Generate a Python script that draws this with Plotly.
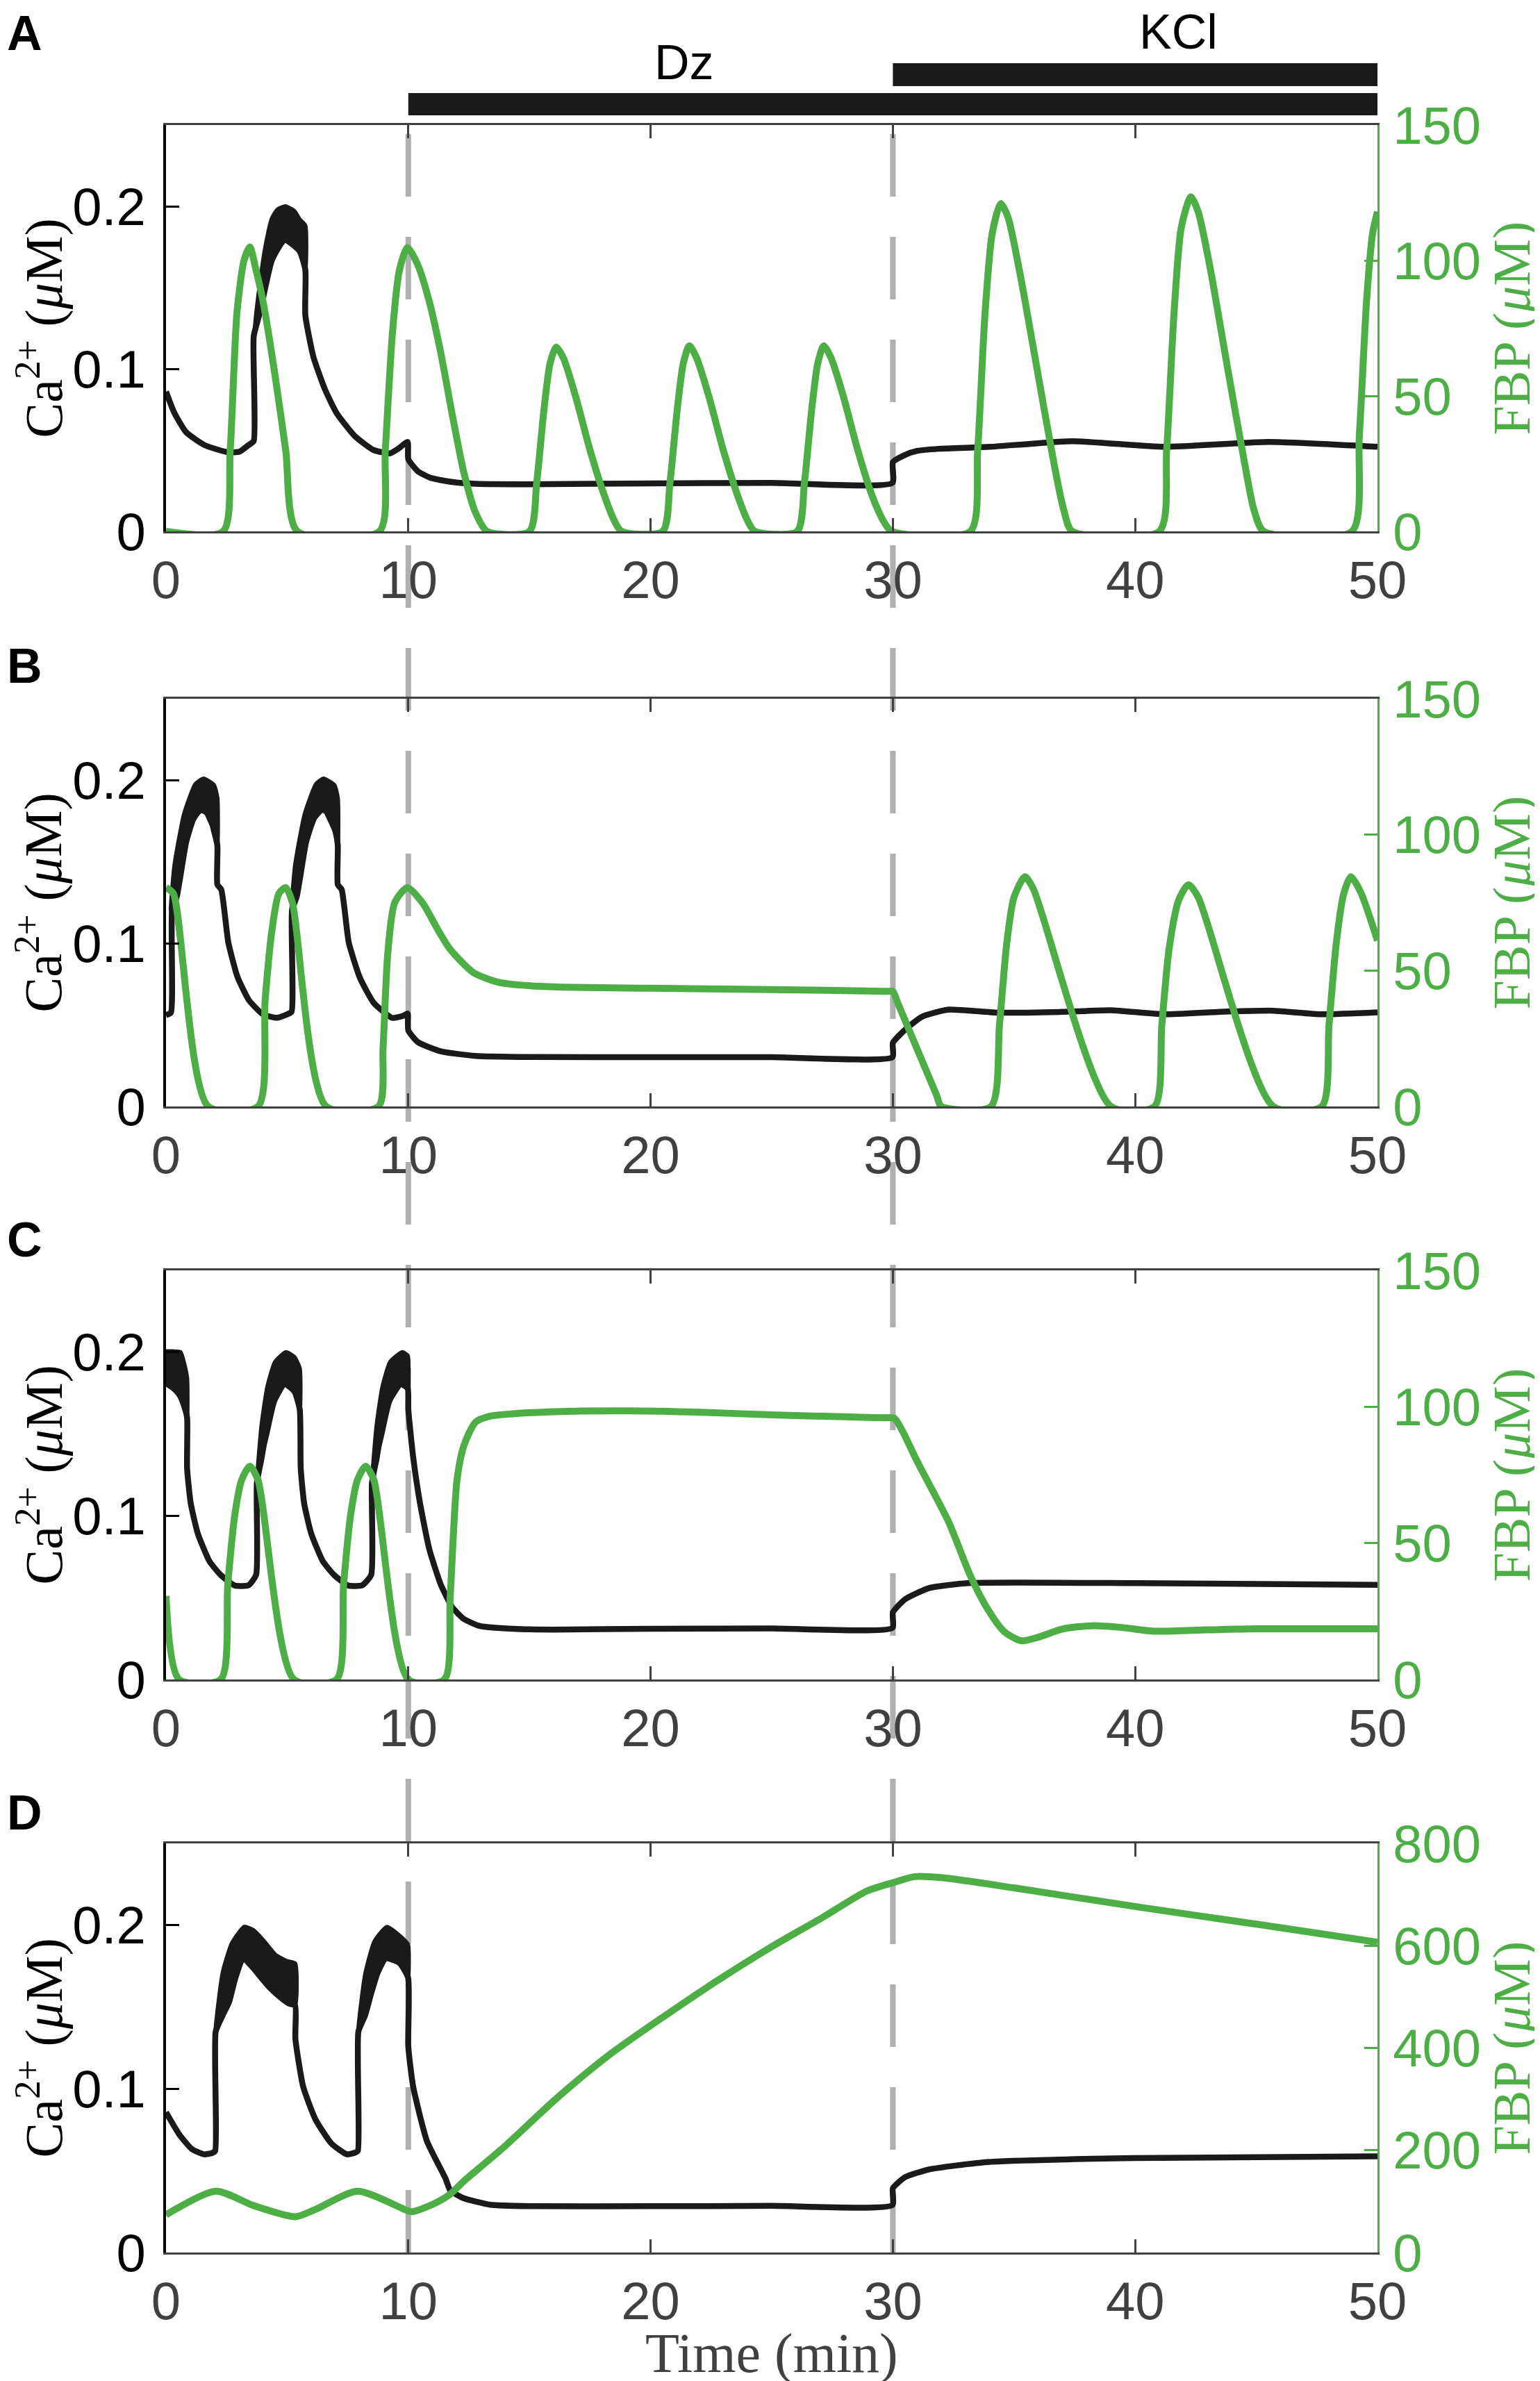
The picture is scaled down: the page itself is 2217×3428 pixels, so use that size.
import plotly.graph_objects as go

W, H = 2217, 3428
GREEN = "#4dae45"
BLACK = "#1a1a1a"
GRAY_AX = "#404040"
DASH_COL = "#b0b0b0"
SANS = "Liberation Sans, Arial, sans-serif"
SERIF = "Liberation Serif, Times New Roman, serif"

# ---------------- data ----------------
time_ticks = [0, 10, 20, 30, 40, 50]
ca_ticks = [0, 0.1, 0.2]
fbp_ticks_abc = [0, 50, 100, 150]
fbp_ticks_d = [0, 200, 400, 600, 800]
panel_labels = ["A", "B", "C", "D"]
treat_names = ["Dz", "KCl"]
treat_start = [10, 30]
treat_end = [50, 50]

# Panel A
A_ca_t = [0, 0.34, 0.83, 1.6, 2.55, 3.03, 3.4, 3.62, 3.62, 3.89, 4.37, 4.9, 5.51, 5.75, 5.75,
          6.09, 6.57, 7.04, 7.8, 8.57, 9.24, 9.6, 9.97, 10.0, 10.39, 10.9, 11.34, 12.0, 12.77,
          15, 20, 25, 29.98, 30.0, 30.5, 31.0, 31.9, 34, 37.4, 41.2, 45.5, 50]
A_ca_v = [0.086, 0.073, 0.061, 0.053, 0.0487, 0.049, 0.053, 0.0556, 0.12, 0.1355, 0.1668, 0.1795, 0.1725, 0.161, 0.133,
          0.107, 0.087, 0.0728, 0.0585, 0.050, 0.048, 0.051, 0.055, 0.0444, 0.037, 0.033, 0.0315, 0.030, 0.0293,
          0.029, 0.0295, 0.0298, 0.0298, 0.0426, 0.047, 0.0495, 0.0508, 0.052, 0.0555, 0.052, 0.055, 0.052]
A_b1_t = [3.62, 3.89, 4.1, 4.37, 4.6, 4.93, 5.3, 5.51, 5.75]
A_b1_hi = [0.12, 0.154, 0.175, 0.1925, 0.198, 0.200, 0.197, 0.192, 0.188]
A_b1_lo = [0.12, 0.1355, 0.150, 0.1668, 0.176, 0.1795, 0.178, 0.1725, 0.161]
A_fbp_t = [0, 2.36, 2.65, 2.93, 3.22, 3.46, 3.7, 3.99, 4.46, 4.94, 5.42,
           8.81, 9.05, 9.34, 9.62, 9.96, 10.39, 10.87, 11.34, 11.82, 12.3, 12.77, 13.25,
           15.0, 15.3, 15.6, 15.85, 16.1, 16.4, 16.9, 17.5, 18.1, 18.5, 18.8,
           20.5, 20.8, 21.1, 21.35, 21.6, 21.9, 22.4, 23.0, 23.6, 24.0, 24.3,
           26.05, 26.35, 26.65, 26.9, 27.15, 27.45, 27.95, 28.55, 29.15, 29.6, 29.95,
           33.2, 33.5, 33.8, 34.1, 34.45, 34.75, 35.25, 35.95, 36.65, 37.05, 37.4,
           41.0, 41.3, 41.6, 41.9, 42.3, 42.6, 43.1, 43.8, 44.5, 44.9, 45.3,
           48.95, 49.25, 49.55, 49.8, 50.0]
A_fbp_v = [0, 0, 30, 81, 100, 105, 97, 85.6, 60, 30, 0,
           0, 30, 72.7, 95.8, 104.8, 98.4, 84.7, 65.9, 42.8, 21.4, 7, 0,
           0, 18, 45, 62, 68, 64, 50, 30, 13, 4, 0,
           0, 18, 45, 62, 68.5, 64, 50, 30, 13, 4, 0,
           0, 18, 45, 62, 68.5, 64, 50, 30, 13, 4, 0,
           0, 30, 80, 110, 121, 116, 95, 60, 25, 8, 0,
           0, 30, 80, 112, 123.5, 118, 97, 61, 26, 8, 0,
           0, 35, 85, 110, 118]

# Panel B
B_ca_t = [0, 0.2, 0.25, 0.45, 0.83, 1.12, 1.42, 1.79, 1.98, 2.12, 2.12, 2.28, 2.57, 2.95, 3.43, 4.0, 4.58, 5.0, 5.18,
          5.2, 5.4, 5.78, 6.07, 6.45, 6.8, 7.0, 7.09, 7.09, 7.25, 7.54, 8.0, 8.57, 9.34, 9.81, 9.97,
          10.0, 10.39, 11.34, 12.77, 15, 20, 25, 29.98, 30.0, 30.5, 31.2, 32.3, 34.3, 37, 39, 41.2, 43.5, 45.7, 47.7, 50]
B_ca_v = [0.056, 0.0575, 0.12, 0.129, 0.162, 0.176, 0.182, 0.179, 0.169, 0.160, 0.136, 0.133, 0.1007, 0.0794, 0.065, 0.0565, 0.0544, 0.0565, 0.058,
          0.12, 0.129, 0.162, 0.176, 0.182, 0.179, 0.169, 0.160, 0.136, 0.133, 0.1007, 0.079, 0.0636, 0.0543, 0.0557, 0.057,
          0.0466, 0.0395, 0.0338, 0.031, 0.0303, 0.0302, 0.0302, 0.0302, 0.039, 0.047, 0.055, 0.0594, 0.0575, 0.058, 0.059, 0.0565, 0.058, 0.0587, 0.0565, 0.0577]
B_b1_t = [0.2, 0.35, 0.74, 1.21, 1.55, 1.98, 2.12]
B_b1_hi = [0.12, 0.148, 0.179, 0.1976, 0.201, 0.197, 0.189]
B_b1_lo = [0.12, 0.127, 0.158, 0.178, 0.182, 0.169, 0.160]
B_b2_t = [5.18, 5.33, 5.72, 6.19, 6.5, 6.95, 7.09]
B_b2_hi = [0.12, 0.148, 0.179, 0.1976, 0.201, 0.197, 0.189]
B_b2_lo = [0.12, 0.127, 0.158, 0.178, 0.182, 0.169, 0.160]
B_fbp_t = [0, 0.3, 1.74, 3.8, 4.09, 4.37, 4.66, 4.94, 5.22, 6.61, 8.77, 8.96, 9.15, 9.44, 9.96, 10.58, 11.24, 11.72,
           12.68, 13.63, 14.2, 16, 20, 25, 29.8, 30.0, 30.2, 31.8, 32.0, 34.05, 34.4, 34.7, 35.0, 35.45, 35.8, 39.0,
           40.8, 41.1, 41.4, 41.8, 42.2, 42.6, 45.7, 47.7, 48.0, 48.3, 48.6, 48.9, 49.3, 50]
B_fbp_v = [80.5, 78.4, 0, 0, 39, 64.7, 78.4, 80.5, 74.9, 0, 0, 22, 56, 75, 80.5, 75, 64.7, 57.9,
           49.3, 45.9, 45, 44, 43.5, 43, 42.35, 42.3, 38.1, 4.2, 0, 0, 30, 60, 77, 84.5, 80, 0,
           0, 30, 58, 76, 81.6, 77, 0, 0, 30, 60, 78, 84.5, 79, 61]

# Panel C
C_ca_t = [0, 0.3, 0.55, 0.75, 0.87, 0.87, 1.02, 1.31, 1.79, 2.26, 2.84, 3.41, 3.72, 3.75, 3.94, 4.3, 4.85, 5.3, 5.52,
          5.56, 5.70, 5.99, 6.47, 6.94, 7.52, 8.1, 8.47, 8.5, 8.69, 9.05, 9.6, 9.97, 10.0, 10.2, 10.48, 10.87,
          11.34, 11.82, 12.3, 12.97, 14.3, 16, 20, 25, 29.98, 30.0, 30.5, 31.5, 33.1, 40, 50]
C_ca_v = [0.181, 0.178, 0.174, 0.167, 0.160, 0.129, 0.1077, 0.0893, 0.0723, 0.0638, 0.0574, 0.0576, 0.064, 0.12, 0.135, 0.165, 0.181, 0.176, 0.165,
          0.129, 0.1077, 0.0893, 0.0723, 0.0638, 0.0574, 0.0576, 0.064, 0.12, 0.135, 0.165, 0.181, 0.178, 0.165, 0.136, 0.108, 0.0794,
          0.058, 0.044, 0.0369, 0.0326, 0.031, 0.0305, 0.031, 0.0312, 0.0315, 0.041, 0.049, 0.0559, 0.0589, 0.0589, 0.0578]
C_b0_t = [0, 0.3, 0.6, 0.75, 0.87]
C_b0_hi = [0.2005, 0.2005, 0.200, 0.193, 0.184]
C_b0_lo = [0.181, 0.178, 0.174, 0.167, 0.160]
C_b1_t = [3.75, 3.94, 4.18, 4.5, 4.95, 5.3, 5.52]
C_b1_hi = [0.12, 0.155, 0.1786, 0.194, 0.200, 0.197, 0.190]
C_b1_lo = [0.12, 0.135, 0.150, 0.170, 0.181, 0.176, 0.165]
C_b2_t = [8.5, 8.69, 8.93, 9.25, 9.75, 9.97, 10.0]
C_b2_hi = [0.12, 0.155, 0.1786, 0.194, 0.200, 0.198, 0.196]
C_b2_lo = [0.12, 0.135, 0.150, 0.170, 0.181, 0.178, 0.170]
C_fbp_t = [0, 0.54, 2.26, 2.55, 2.84, 3.12, 3.46, 3.8, 5.28, 7.04, 7.33, 7.62, 7.9, 8.24, 8.58, 10.0,
           11.49, 11.73, 12.01, 12.3, 12.78, 13.35, 14.3, 16, 19.1, 22, 25, 28, 29.6, 30.06, 30.4, 31.0, 32.3, 33.2,
           33.9, 34.6, 35.3, 36.0, 37.0, 38.2, 39.5, 40.8, 43, 45, 50]
C_fbp_v = [30.6, 0, 0, 34.9, 60.4, 73.1, 78.2, 73.1, 0, 0, 34.9, 60.4, 73.1, 78.2, 73.1, 0,
           0, 30.6, 73.1, 85.9, 94.4, 96.5, 97.4, 98.2, 98.5, 98, 97, 96.3, 95.95, 95.8, 91, 80, 57.8, 38,
           26, 17.5, 14.2, 15.5, 18.5, 19.7, 19, 17.7, 18.2, 18.6, 18.6]

# Panel D
D_ca_t = [0, 0.54, 1.06, 1.57, 1.9, 2.03, 2.05, 2.34, 2.6, 2.9, 3.18, 3.63, 4.27, 4.8, 5.1, 5.33, 5.34,
          5.66, 6.17, 6.82, 7.46, 7.8, 7.92, 7.94, 8.22, 8.5, 8.99, 9.63, 9.99, 10.0, 10.2, 10.77, 11.53,
          11.73, 12.28, 13.38, 15, 20, 25, 29.98, 30.0, 30.5, 31.5, 33.9, 40, 50]
D_ca_v = [0.0857, 0.0723, 0.0633, 0.060, 0.0608, 0.0622, 0.135, 0.145, 0.153, 0.170, 0.180, 0.1733, 0.162, 0.155, 0.152, 0.151, 0.1306,
          0.1014, 0.0813, 0.0667, 0.060, 0.061, 0.0622, 0.135, 0.145, 0.160, 0.180, 0.177, 0.168, 0.126, 0.1014, 0.068, 0.0454,
          0.038, 0.0332, 0.0292, 0.0283, 0.0283, 0.0285, 0.029, 0.0393, 0.046, 0.0508, 0.0553, 0.0577, 0.0588]
D_b1_t = [2.05, 2.34, 2.72, 3.23, 3.6, 4.0, 4.51, 5.0, 5.33]
D_b1_hi = [0.135, 0.171, 0.189, 0.199, 0.197, 0.191, 0.182, 0.178, 0.1766]
D_b1_lo = [0.135, 0.145, 0.160, 0.180, 0.1733, 0.166, 0.160, 0.154, 0.151]
D_b2_t = [7.94, 8.22, 8.6, 9.12, 9.76, 9.99]
D_b2_hi = [0.135, 0.170, 0.190, 0.199, 0.192, 0.188]
D_b2_lo = [0.135, 0.145, 0.165, 0.180, 0.177, 0.168]
D_fbp_t = [0, 2.05, 3.63, 5.34, 6.17, 7.91, 10.03, 10.2, 11.0, 11.73, 12.3, 13.92, 16.11, 18.31, 20.5,
           22.7, 24.89, 27.09, 28.93, 30.06, 30.9, 32, 35, 40, 45.3, 50]
D_fbp_v = [73.6, 120, 91.5, 70, 84.3, 120, 80.8, 80, 94, 114, 140, 205, 301, 387, 460,
           530, 595, 655, 707, 724, 735, 733, 713, 676.5, 640, 606.7]

panels = [
    dict(ca_t=A_ca_t, ca_v=A_ca_v, bursts=[(A_b1_t, A_b1_hi, A_b1_lo)],
         fbp_t=A_fbp_t, fbp_v=A_fbp_v, fbp_max=150, fbp_ticks=fbp_ticks_abc),
    dict(ca_t=B_ca_t, ca_v=B_ca_v, bursts=[(B_b1_t, B_b1_hi, B_b1_lo), (B_b2_t, B_b2_hi, B_b2_lo)],
         fbp_t=B_fbp_t, fbp_v=B_fbp_v, fbp_max=150, fbp_ticks=fbp_ticks_abc),
    dict(ca_t=C_ca_t, ca_v=C_ca_v, bursts=[(C_b0_t, C_b0_hi, C_b0_lo), (C_b1_t, C_b1_hi, C_b1_lo),
                                           (C_b2_t, C_b2_hi, C_b2_lo)],
         fbp_t=C_fbp_t, fbp_v=C_fbp_v, fbp_max=150, fbp_ticks=fbp_ticks_abc),
    dict(ca_t=D_ca_t, ca_v=D_ca_v, bursts=[(D_b1_t, D_b1_hi, D_b1_lo), (D_b2_t, D_b2_hi, D_b2_lo)],
         fbp_t=D_fbp_t, fbp_v=D_fbp_v, fbp_max=800, fbp_ticks=fbp_ticks_d),
]

# ---------------- layout geometry (pixels) ----------------
X_LEFT, X_RIGHT = 231, 1975
PANEL_TOP = [172, 998, 1821, 2646]
PANEL_BOT = [757, 1585, 2410, 3235]
LABEL_Y = [40, 951, 1777, 2602]
TICK_SIZE = 76
TITLE_SIZE = 76


def px_x(p):
    return p / W


def px_y(p):
    return 1 - p / H


fig = go.Figure()
layout = dict(
    width=W, height=H, margin=dict(l=0, r=0, t=0, b=0),
    paper_bgcolor="white", plot_bgcolor="white", showlegend=False,
    font=dict(family=SANS, size=TICK_SIZE, color="black"),
)
annotations = []
shapes = []

for i, p in enumerate(panels):
    xa = f"x{i + 1}" if i else "x"
    yl = f"y{2 * i + 1}" if i else "y"
    yr = f"y{2 * i + 2}"
    xname = f"xaxis{i + 1}" if i else "xaxis"
    ylname = f"yaxis{2 * i + 1}" if i else "yaxis"
    yrname = f"yaxis{2 * i + 2}"

    # fast-oscillation bands (envelopes of the Ca2+ spiking)
    for bt, bhi, blo in p["bursts"]:
        fig.add_trace(go.Scatter(
            x=list(bt) + list(bt)[::-1], y=list(bhi) + list(blo)[::-1],
            xaxis=xa, yaxis=yl, mode="lines", fill="toself", fillcolor=BLACK,
            line=dict(color=BLACK, width=6, shape="spline", smoothing=0.5), hoverinfo="skip"))
    fig.add_trace(go.Scatter(x=p["ca_t"], y=p["ca_v"], xaxis=xa, yaxis=yl, mode="lines",
                             line=dict(color=BLACK, width=8.5, shape="spline", smoothing=0.5),
                             hoverinfo="skip"))
    fig.add_trace(go.Scatter(x=p["fbp_t"], y=p["fbp_v"], xaxis=xa, yaxis=yr, mode="lines",
                             line=dict(color=GREEN, width=10, shape="spline", smoothing=0.7),
                             hoverinfo="skip"))

    dom_y = [px_y(PANEL_BOT[i]), px_y(PANEL_TOP[i])]
    layout[xname] = dict(
        domain=[px_x(X_LEFT), px_x(X_RIGHT)], anchor=yl, range=[0, 50],
        tickvals=time_ticks, ticks="inside", ticklen=19, tickwidth=3, tickcolor=GRAY_AX,
        showline=True, linecolor=GRAY_AX, linewidth=3, mirror="ticks",
        showgrid=False, zeroline=False, ticklabelstandoff=2, automargin=False,
        tickfont=dict(family=SANS, size=TICK_SIZE, color=GRAY_AX), fixedrange=True)
    layout[ylname] = dict(
        domain=dom_y, anchor=xa, range=[0, 0.25], tickvals=ca_ticks,
        ticktext=[str(v) if v else "0" for v in ca_ticks],
        ticks="inside", ticklen=19, tickwidth=3, tickcolor="black",
        showline=True, linecolor="black", linewidth=4, showgrid=False, zeroline=False,
        ticklabelstandoff=10, automargin=False,
        tickfont=dict(family=SANS, size=TICK_SIZE, color="black"), fixedrange=True)
    layout[yrname] = dict(
        overlaying=yl, side="right", anchor=xa, range=[0, p["fbp_max"]], tickvals=p["fbp_ticks"],
        ticks="inside", ticklen=19, tickwidth=3, tickcolor=GREEN,
        showline=True, linecolor=GREEN, linewidth=3, showgrid=False, zeroline=False,
        ticklabelstandoff=4, automargin=False,
        tickfont=dict(family=SANS, size=TICK_SIZE, color=GREEN), fixedrange=True)

    cy = px_y((PANEL_TOP[i] + PANEL_BOT[i]) / 2)
    annotations.append(dict(text="Ca<sup>2+</sup> (<i>μ</i>M)", xref="paper", yref="paper",
                            x=px_x(50), y=cy, xanchor="center", yanchor="middle", textangle=-90,
                            showarrow=False, font=dict(family=SERIF, size=TITLE_SIZE, color="black")))
    annotations.append(dict(text="FBP (<i>μ</i>M)", xref="paper", yref="paper",
                            x=px_x(2168), y=cy, xanchor="center", yanchor="middle", textangle=-90,
                            showarrow=False, font=dict(family=SERIF, size=TITLE_SIZE, color=GREEN)))
    annotations.append(dict(text=f"<b>{panel_labels[i]}</b>", xref="paper", yref="paper",
                            x=px_x(0), y=px_y(LABEL_Y[i]), xanchor="left", yanchor="middle",
                            showarrow=False, font=dict(family=SANS, size=70, color="black")))

# x-axis title
annotations.append(dict(text="Time (min)", xref="paper", yref="paper", x=px_x(1103), y=px_y(3380),
                        xanchor="center", yanchor="middle", showarrow=False,
                        font=dict(family=SERIF, size=80, color=GRAY_AX)))

# treatment onset dashed lines (through all panels)
for t0 in treat_start:
    shapes.append(dict(type="line", xref="x", yref="paper", x0=t0, x1=t0,
                       y0=px_y(PANEL_BOT[3]), y1=px_y(160), layer="below",
                       line=dict(color=DASH_COL, width=8, dash="90px,58px")))

# treatment bars
BAR_Y = [(126, 158), (83, 116)]
LBL = [(21.4, 82), (41.8, 38)]
for k, name in enumerate(treat_names):
    shapes.append(dict(type="rect", xref="x", yref="paper", x0=treat_start[k], x1=treat_end[k],
                       y0=px_y(BAR_Y[k][1]), y1=px_y(BAR_Y[k][0]), fillcolor=BLACK,
                       line=dict(width=0), layer="above"))
    annotations.append(dict(text=name, xref="x", yref="paper", x=LBL[k][0], y=px_y(LBL[k][1]),
                            xanchor="center", yanchor="middle", showarrow=False,
                            font=dict(family=SANS, size=70, color="black")))

layout["annotations"] = annotations
layout["shapes"] = shapes
fig.update_layout(**layout)
fig.write_html("out.html")
